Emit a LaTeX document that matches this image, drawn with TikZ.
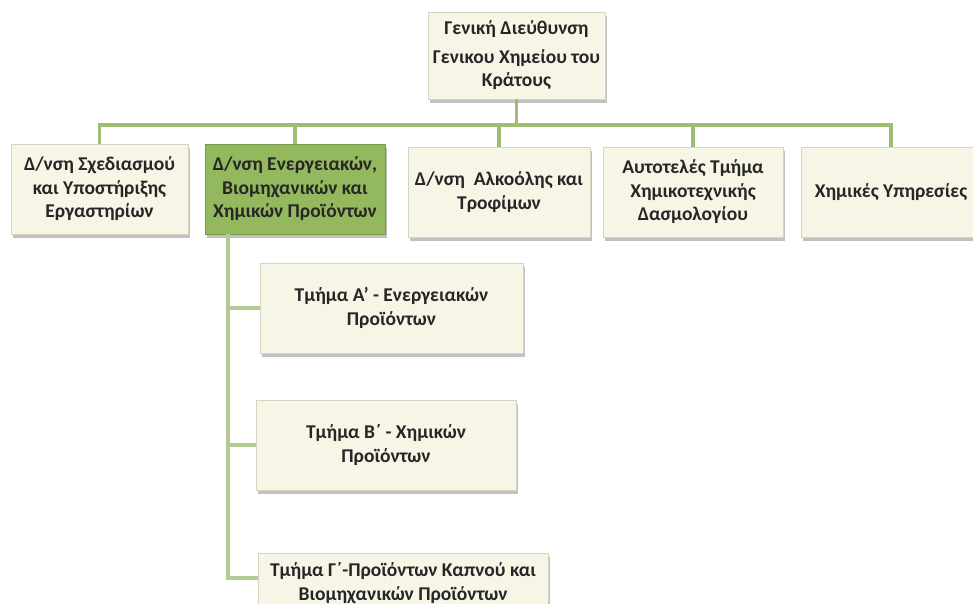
\documentclass[tikz,border=0pt]{standalone}
\usepackage{fontspec}
\setmainfont{Carlito}
\usepackage{xcolor}
\definecolor{boxc}{HTML}{F7F5E6}
\definecolor{edgec}{HTML}{D6D3C0}
\definecolor{selc}{HTML}{93B85E}
\definecolor{seledge}{HTML}{76994A}
\definecolor{linec}{HTML}{9DBE72}
\definecolor{sublc}{HTML}{B2CB93}
\definecolor{txtc}{HTML}{262626}
\usetikzlibrary{positioning,calc,shadows}
\tikzset{
  unit/.style={draw=edgec,line width=0.8pt,fill=boxc,minimum width=177pt,minimum height=90pt,inner sep=2pt,
    align=center,text=txtc,font=\fontsize{19.5}{23.5}\selectfont\bfseries,
    drop shadow={shadow xshift=2pt,shadow yshift=-4pt,opacity=0.35,fill=black!70}},
  selunit/.style={unit,draw=seledge,fill=selc},
  subunit/.style={unit,minimum width=260pt},
  link/.style={draw=linec,line width=3.8pt},
  sublink/.style={draw=sublc,line width=3.8pt},
}

\begin{document}
\begin{tikzpicture}[x=1pt,y=1pt]
  \clip (0,0) rectangle (973,-604);
  % head office
  \node[unit,minimum height=87pt] (gd) at (516.5,-55.5) {Γενική Διεύθυνση\\[5pt]Γενικου Χημείου του\\Κράτους};
  % directorates
  \node[unit] (dsx) at (99.5,-189) {Δ/νση Σχεδιασμού\\και Υποστήριξης\\Εργαστηρίων};
  \node[selunit,minimum width=180pt] (den) at (295,-189) {Δ/νση Ενεργειακών,\\Βιομηχανικών και\\Χημικών Προϊόντων};
  \node[unit,minimum width=182pt] (dalk) at (499,-192) {Δ/νση~ Αλκοόλης και\\Τροφίμων};
  \node[unit,minimum width=180pt] (ath) at (693,-192) {Αυτοτελές Τμήμα\\Χημικοτεχνικής\\Δασμολογίου};
  \node[unit,minimum width=180pt] (xyp) at (891,-192) {Χημικές Υπηρεσίες};
  % sections
  \node[subunit,minimum width=263pt] (ta) at (391.5,-308) {Τμήμα Α' - Ενεργειακών\\Προϊόντων};
  \node[subunit] (tb) at (386,-445) {Τμήμα Β΄ - Χημικών\\Προϊόντων};
  \node[subunit,minimum width=290pt,minimum height=60pt] (tg) at (403,-583) {Τμήμα Γ΄-Προϊόντων Καπνού και\\Βιομηχανικών Προϊόντων};
  % connectors
  \coordinate (bus) at ($(gd.south)+(0,-26)$);
  \coordinate (spine) at ($(den.south west)+(23,0)$);
  \draw[link] (gd.south) -- (bus);
  \foreach \n in {dsx,den,dalk,ath,xyp}
    \draw[link] (bus) -| (\n.north);
  \draw[sublink] (spine) |- ($(tg.west)+(0,5)$);
  \draw[sublink] ($(spine|-ta.west)$) -- (ta.west);
  \draw[sublink] ($(spine|-tb.west)$) -- (tb.west);
\end{tikzpicture}
\end{document}
